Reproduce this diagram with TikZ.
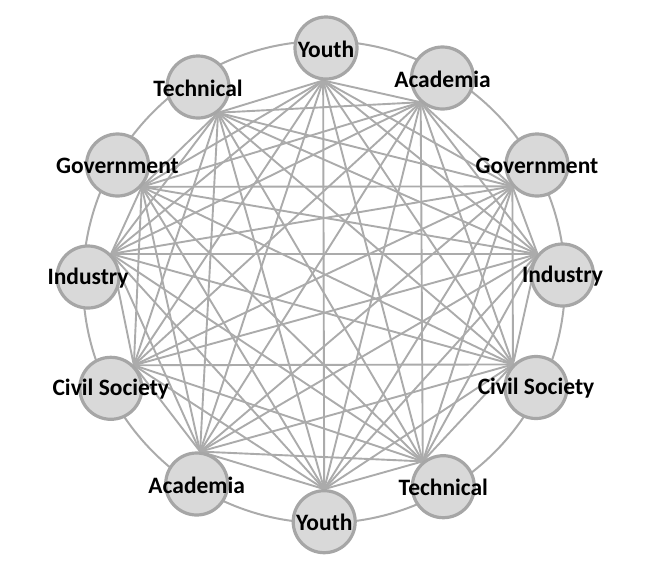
\documentclass[tikz,border=0pt]{standalone}
\usepackage{fontspec}
\setmainfont{Carlito}
\usetikzlibrary{backgrounds}
\definecolor{edgegray}{HTML}{ABABAB}
\definecolor{ringgray}{HTML}{A6A6A6}
\definecolor{nodefill}{HTML}{D9D9D9}
\tikzset{
  member/.style={circle, draw=ringgray, line width=3.2pt, fill=nodefill, minimum size=62pt, inner sep=0pt},
  membertext/.style={inner sep=0pt, font=\fontsize{23.5}{27}\selectfont\bfseries, text=black},
  edge/.style={draw=edgegray, line width=1.9pt},
  ring/.style={draw=edgegray, line width=2pt}
}
\begin{document}
\begin{tikzpicture}[x=1pt,y=-1pt]
\useasboundingbox (0,0) rectangle (648,574);
\foreach \n/\px/\py/\ang/\txt in {
  1/326/48/-95/Youth,
  2/442.5/78/-132/Academia,
  3/537/165/-139/Government,
  4/562.5/275/140/Industry,
  5/536/387.5/135/Civil Society,
  6/443.3/486.7/129/Technical,
  7/324.2/521.7/90/Youth,
  8/196.7/484/84/Academia,
  9/110.8/388.3/45/Civil Society,
  10/88/277/45/Industry,
  11/117.5/165/-42/Government,
  12/198/87/-52/Technical}{
  \node[member] (m\n) at (\px,\py) {};
  \node[membertext] (t\n) at (\px,\py+1) {\txt};
  \coordinate (p\n) at (m\n.\ang);
}
\begin{pgfonlayer}{background}
  \node[circle, ring, minimum size=482pt, inner sep=0pt] (bigring) at (324,282) {};
  \foreach \i in {1,...,11}{
    \pgfmathtruncatemacro\s{\i+1}
    \foreach \j in {\s,...,12}{
      \draw[edge] (p\i) -- (p\j);
    }
  }
\end{pgfonlayer}
\end{tikzpicture}
\end{document}
